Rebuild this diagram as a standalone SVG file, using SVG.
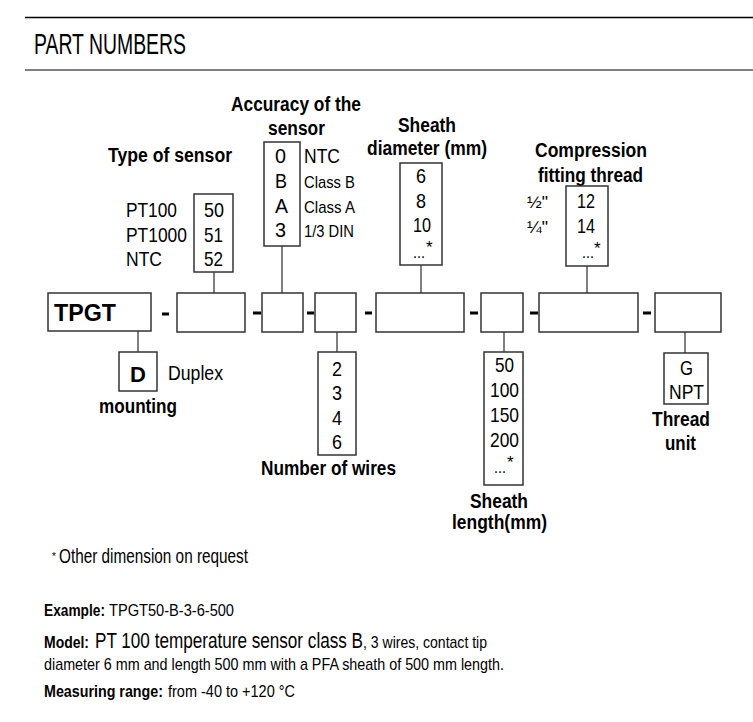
<svg xmlns="http://www.w3.org/2000/svg" width="753" height="722" viewBox="0 0 753 722">
<style>
text{font-family:"Liberation Sans",Arial,sans-serif;fill:#000}
.b{font-weight:bold;font-size:20px}
.r{font-size:21px}
.s{font-size:17px}
.m{text-anchor:middle}
.box{fill:#fff;stroke:#333;stroke-width:1.5}
.con line{stroke:#555;stroke-width:1.5}
.dash{stroke:#000;stroke-width:3}
</style>
<rect width="753" height="722" fill="#fff"/>
<line x1="25" y1="17.5" x2="753" y2="17.5" stroke="#000" stroke-width="1.5"/>
<line x1="25" y1="70" x2="753" y2="70" stroke="#555" stroke-width="1.5"/>
<text x="34" y="54" style="font-size:30px" textLength="152" lengthAdjust="spacingAndGlyphs">PART NUMBERS</text>

<g id="connectors" class="con">
<line x1="214" y1="272" x2="214" y2="293"/>
<line x1="282" y1="246" x2="282" y2="293"/>
<line x1="421" y1="265" x2="421" y2="293"/>
<line x1="587" y1="266" x2="587" y2="293"/>
<line x1="138" y1="331" x2="138" y2="352"/>
<line x1="337" y1="332" x2="337" y2="352"/>
<line x1="504" y1="332" x2="504" y2="352"/>
<line x1="685" y1="332" x2="685" y2="353"/>
</g>

<g id="dashes">
<line class="dash" x1="162" y1="314" x2="169" y2="314"/>
<line class="dash" x1="253" y1="313" x2="261" y2="313"/>
<line class="dash" x1="307" y1="313" x2="314" y2="313"/>
<line class="dash" x1="365" y1="313" x2="372" y2="313"/>
<line class="dash" x1="470" y1="313" x2="478" y2="313"/>
<line class="dash" x1="530" y1="313" x2="538" y2="313"/>
<line class="dash" x1="643" y1="313" x2="651" y2="313"/>
</g>

<g id="code-boxes">
<g id="box-tpgt"><rect class="box" x="48" y="293" width="103" height="38"/><text x="54" y="321" style="font-weight:bold;font-size:24px" textLength="62" lengthAdjust="spacingAndGlyphs">TPGT</text></g>
<rect id="box-type" class="box" x="177" y="293" width="68" height="39"/>
<rect id="box-accuracy" class="box" x="262" y="293" width="41" height="39"/>
<rect id="box-wires" class="box" x="315" y="293" width="41" height="39"/>
<rect id="box-diameter" class="box" x="376" y="293" width="88" height="39"/>
<rect id="box-length" class="box" x="481" y="293" width="42" height="39"/>
<rect id="box-fitting" class="box" x="539" y="293" width="99" height="39"/>
<rect id="box-unit" class="box" x="655" y="293" width="66" height="39"/>
</g>

<g id="type-of-sensor">
<text class="b" x="108" y="162" textLength="124" lengthAdjust="spacingAndGlyphs">Type of sensor</text>
<rect class="box" x="194" y="194" width="39" height="78"/>
<text class="r" x="204" y="217" textLength="20" lengthAdjust="spacingAndGlyphs">50</text>
<text class="r" x="204" y="242" textLength="19" lengthAdjust="spacingAndGlyphs">51</text>
<text class="r" x="204" y="266" textLength="19" lengthAdjust="spacingAndGlyphs">52</text>
<text class="r" x="126" y="217" textLength="51" lengthAdjust="spacingAndGlyphs">PT100</text>
<text class="r" x="126" y="242" textLength="61" lengthAdjust="spacingAndGlyphs">PT1000</text>
<text class="r" x="126" y="266" textLength="36" lengthAdjust="spacingAndGlyphs">NTC</text>
</g>

<g id="accuracy">
<text class="b" x="231" y="111" textLength="130" lengthAdjust="spacingAndGlyphs">Accuracy of the</text>
<text class="b" x="268" y="135" textLength="57" lengthAdjust="spacingAndGlyphs">sensor</text>
<rect class="box" x="264" y="142" width="36" height="104"/>
<text class="r" x="275" y="163" textLength="11" lengthAdjust="spacingAndGlyphs">0</text>
<text class="r" x="275" y="188" textLength="12" lengthAdjust="spacingAndGlyphs">B</text>
<text class="r" x="275" y="213" textLength="13" lengthAdjust="spacingAndGlyphs">A</text>
<text class="r" x="275" y="237" textLength="11" lengthAdjust="spacingAndGlyphs">3</text>
<text class="r" x="304" y="163" textLength="36" lengthAdjust="spacingAndGlyphs">NTC</text>
<text class="s" x="304" y="188" textLength="51" lengthAdjust="spacingAndGlyphs">Class B</text>
<text class="s" x="304" y="213" textLength="51" lengthAdjust="spacingAndGlyphs">Class A</text>
<text class="s" x="304" y="237" textLength="50" lengthAdjust="spacingAndGlyphs">1/3 DIN</text>
</g>

<g id="sheath-diameter">
<text class="b" x="398" y="132" textLength="58" lengthAdjust="spacingAndGlyphs">Sheath</text>
<text class="b" x="367" y="155" textLength="120" lengthAdjust="spacingAndGlyphs">diameter (mm)</text>
<rect class="box" x="400" y="163" width="42" height="102"/>
<text class="r" x="416" y="183" textLength="10" lengthAdjust="spacingAndGlyphs">6</text>
<text class="r" x="416" y="208" textLength="10" lengthAdjust="spacingAndGlyphs">8</text>
<text class="r" x="413" y="232" textLength="18" lengthAdjust="spacingAndGlyphs">10</text>
<text class="s" x="413" y="258" textLength="12" lengthAdjust="spacingAndGlyphs">...</text>
<text class="s" x="426" y="253">*</text>
</g>

<g id="compression">
<text class="b" x="535" y="157" textLength="112" lengthAdjust="spacingAndGlyphs">Compression</text>
<text class="b" x="538" y="182" textLength="105" lengthAdjust="spacingAndGlyphs">fitting thread</text>
<rect class="box" x="566" y="186" width="42" height="80"/>
<text class="r" x="577" y="208" textLength="18" lengthAdjust="spacingAndGlyphs">12</text>
<text class="r" x="577" y="233" textLength="18" lengthAdjust="spacingAndGlyphs">14</text>
<text class="s" x="582" y="258" textLength="12" lengthAdjust="spacingAndGlyphs">...</text>
<text class="s" x="594" y="254">*</text>
<text class="s" x="527" y="208" textLength="21" lengthAdjust="spacingAndGlyphs">½"</text>
<text class="s" x="527" y="233" textLength="21" lengthAdjust="spacingAndGlyphs">¼"</text>
</g>

<g id="mounting">
<rect class="box" x="119" y="352" width="38" height="39"/>
<text class="m" x="138" y="382" style="font-weight:bold;font-size:22px">D</text>
<text class="r" x="168" y="380" textLength="55" lengthAdjust="spacingAndGlyphs">Duplex</text>
<text class="b" x="99" y="413" textLength="78" lengthAdjust="spacingAndGlyphs">mounting</text>
</g>

<g id="wires">
<rect class="box" x="318" y="352" width="38" height="103"/>
<text class="r" x="332" y="376" textLength="10" lengthAdjust="spacingAndGlyphs">2</text>
<text class="r" x="332" y="400" textLength="10" lengthAdjust="spacingAndGlyphs">3</text>
<text class="r" x="332" y="425" textLength="10" lengthAdjust="spacingAndGlyphs">4</text>
<text class="r" x="332" y="449" textLength="10" lengthAdjust="spacingAndGlyphs">6</text>
<text class="b" x="261" y="475" textLength="135" lengthAdjust="spacingAndGlyphs">Number of wires</text>
</g>

<g id="sheath-length">
<rect class="box" x="484" y="352" width="39" height="133"/>
<text class="r" x="495" y="372" textLength="19" lengthAdjust="spacingAndGlyphs">50</text>
<text class="r" x="490" y="397" textLength="29" lengthAdjust="spacingAndGlyphs">100</text>
<text class="r" x="490" y="422" textLength="29" lengthAdjust="spacingAndGlyphs">150</text>
<text class="r" x="490" y="447" textLength="29" lengthAdjust="spacingAndGlyphs">200</text>
<text class="s" x="494" y="473" textLength="12" lengthAdjust="spacingAndGlyphs">...</text>
<text class="s" x="507" y="468">*</text>
<text class="b" x="470" y="508" textLength="58" lengthAdjust="spacingAndGlyphs">Sheath</text>
<text class="b" x="452" y="529" textLength="95" lengthAdjust="spacingAndGlyphs">length(mm)</text>
</g>

<g id="thread-unit">
<rect class="box" x="664" y="353" width="44" height="51"/>
<text class="r" x="680" y="375" textLength="13" lengthAdjust="spacingAndGlyphs">G</text>
<text class="r" x="669" y="399" textLength="35" lengthAdjust="spacingAndGlyphs">NPT</text>
<text class="b" x="652" y="426" textLength="58" lengthAdjust="spacingAndGlyphs">Thread</text>
<text class="b" x="665" y="450" textLength="31" lengthAdjust="spacingAndGlyphs">unit</text>
</g>

<g id="notes">
<text x="52" y="560" style="font-size:10px">*</text>
<text x="59" y="563" style="font-size:20px" textLength="189" lengthAdjust="spacingAndGlyphs">Other dimension on request</text>
<text x="44" y="616" class="s" font-weight="bold" textLength="61" lengthAdjust="spacingAndGlyphs">Example:</text>
<text x="109" y="616" class="s" textLength="125" lengthAdjust="spacingAndGlyphs">TPGT50-B-3-6-500</text>
<text x="44" y="648" class="s" font-weight="bold" textLength="45" lengthAdjust="spacingAndGlyphs">Model:</text>
<text x="95" y="648" style="font-size:22px" textLength="268" lengthAdjust="spacingAndGlyphs">PT 100 temperature sensor class B</text>
<text x="363" y="648" class="s" textLength="124" lengthAdjust="spacingAndGlyphs">, 3 wires, contact tip</text>
<text x="44" y="670" class="s" textLength="460" lengthAdjust="spacingAndGlyphs">diameter 6 mm and length 500 mm with a PFA sheath of 500 mm length.</text>
<text x="44" y="697" class="s" font-weight="bold" textLength="119" lengthAdjust="spacingAndGlyphs">Measuring range:</text>
<text x="168" y="697" class="s" textLength="127" lengthAdjust="spacingAndGlyphs">from -40 to +120 °C</text>
</g>
</svg>
